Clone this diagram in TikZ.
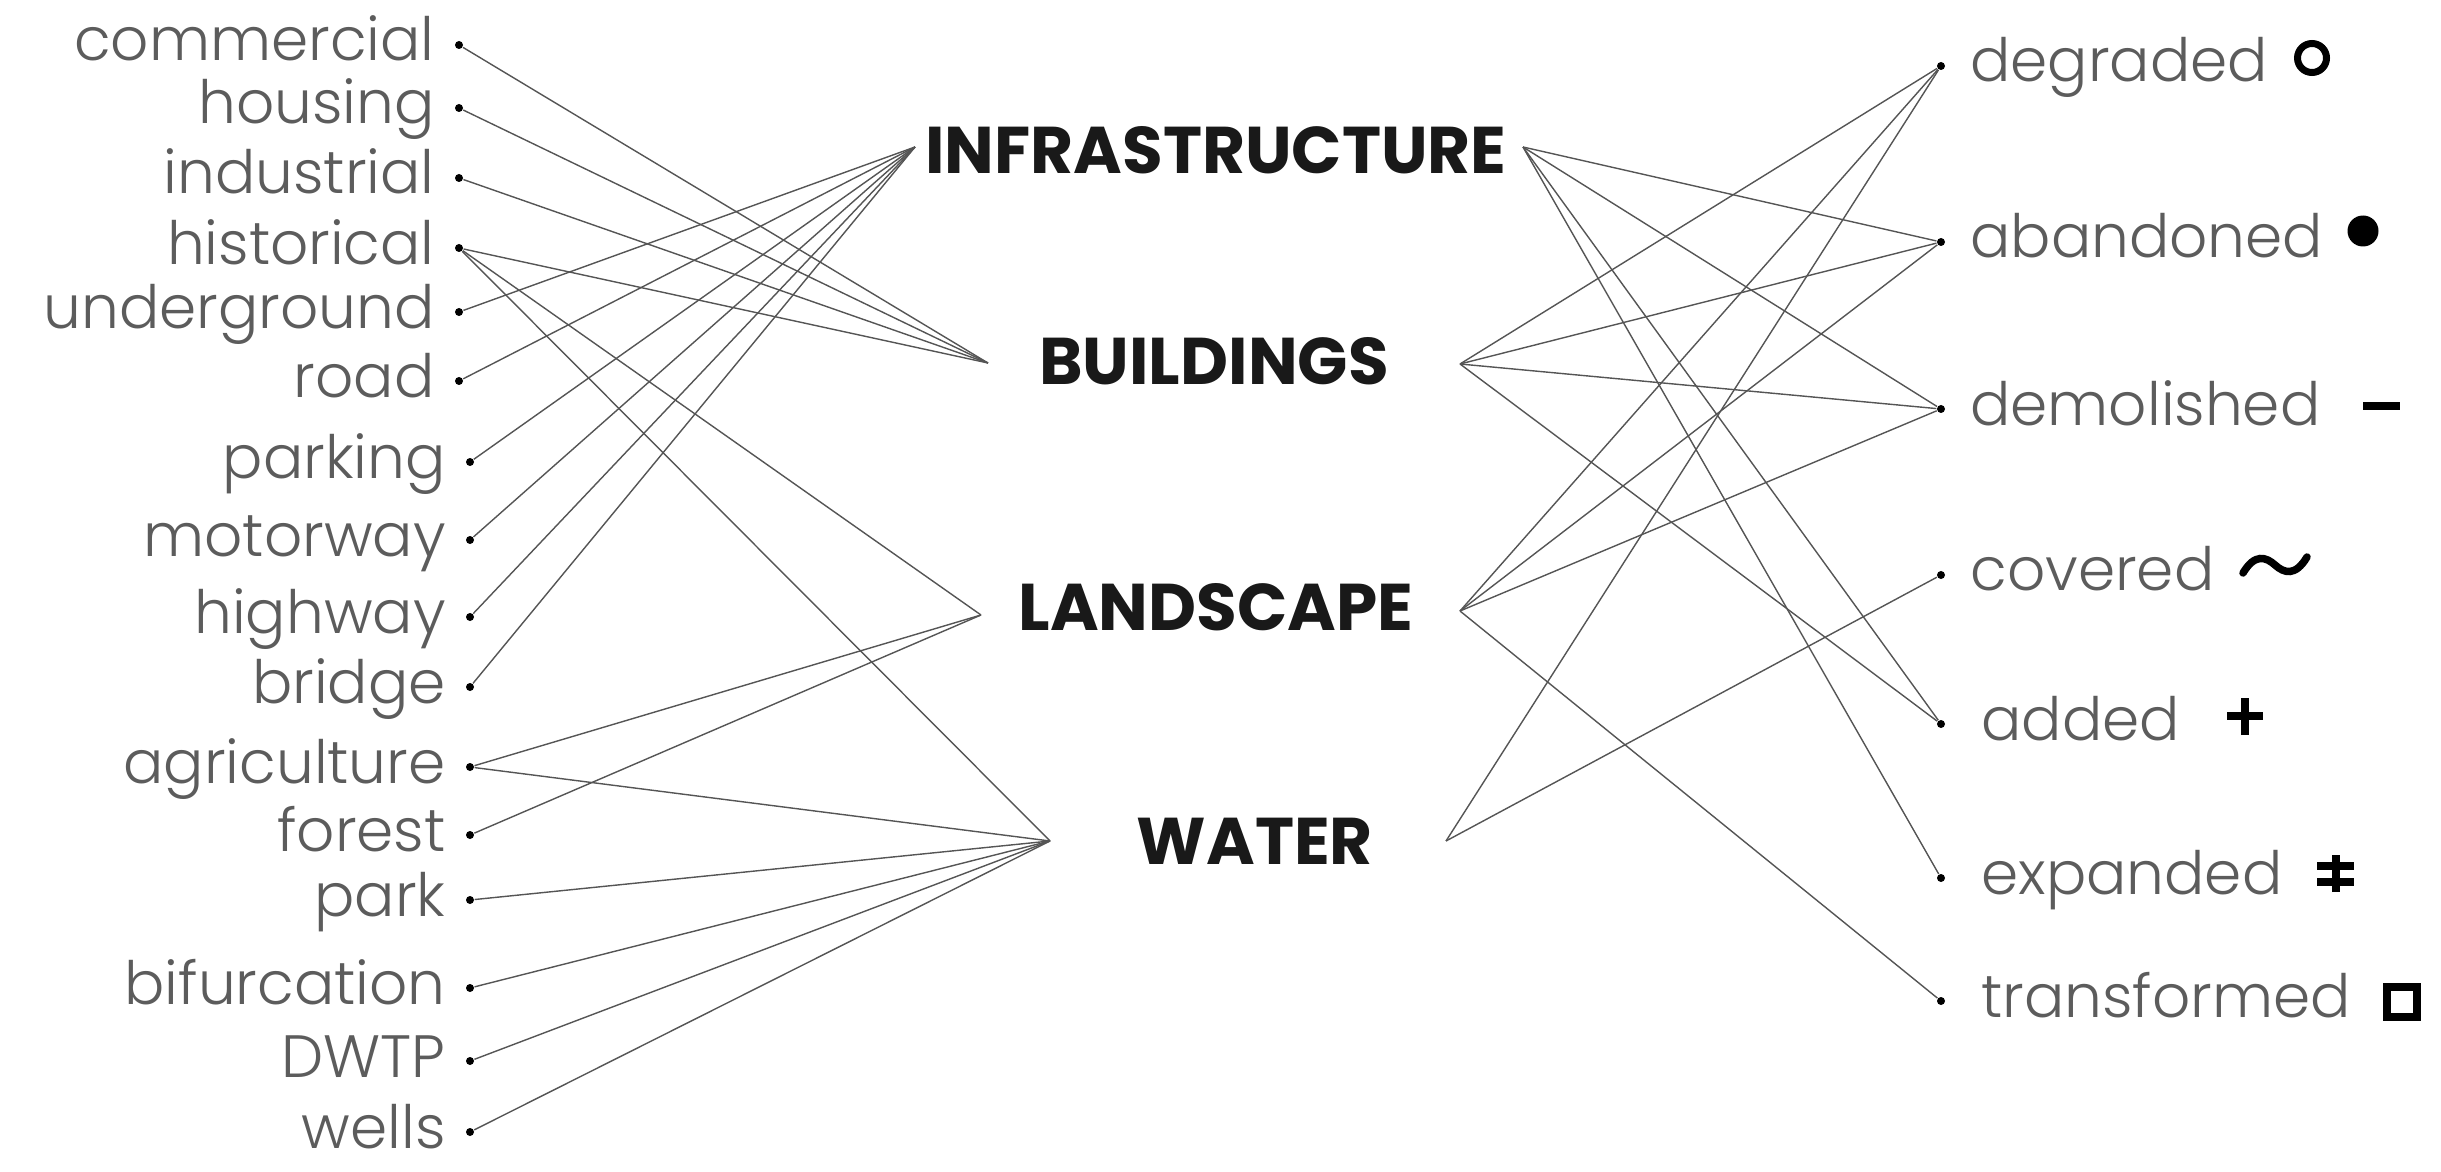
\documentclass[tikz,border=0pt]{standalone}
\usepackage{fontspec}
\setmainfont{Poppins}
\newfontfamily\lightfont{Poppins Light}
\usetikzlibrary{positioning}
\definecolor{labelgray}{HTML}{5C5C5C}
\definecolor{linegray}{HTML}{555555}
\begin{document}
\begin{tikzpicture}[
        dot/.style={circle,fill=black,inner sep=0pt,minimum size=0.08cm},
        item/.style={font=\lightfont\fontsize{17}{17}\selectfont,text=labelgray,inner sep=0pt},
        lefttext/.style={item,anchor=base east,yshift=-0.16cm},
        righttext/.style={item,anchor=base west,yshift=-0.16cm},
        group/.style={font=\bfseries\fontsize{18.8}{18.8}\selectfont,text=black!90,inner sep=0pt},
        link/.style={draw=linegray,line width=0.4pt},
        sym/.style={draw=black,line width=0.075cm}
    ]
    \useasboundingbox (0,0) rectangle (24.41,11.71);
    % left column
    \node[dot] (commercial) at (4.59,11.26) {};
    \node[dot] (housing) at (4.59,10.63) {};
    \node[dot] (industrial) at (4.59,9.93) {};
    \node[dot] (historical) at (4.59,9.23) {};
    \node[dot] (underground) at (4.59,8.59) {};
    \node[dot] (road) at (4.59,7.90) {};
    \node[dot] (parking) at (4.70,7.09) {};
    \node[dot] (motorway) at (4.70,6.31) {};
    \node[dot] (highway) at (4.70,5.54) {};
    \node[dot] (bridge) at (4.70,4.84) {};
    \node[dot] (agriculture) at (4.70,4.04) {};
    \node[dot] (forest) at (4.70,3.36) {};
    \node[dot] (park) at (4.70,2.71) {};
    \node[dot] (bifurcation) at (4.70,1.83) {};
    \node[dot] (dwtp) at (4.70,1.10) {};
    \node[dot] (wells) at (4.70,0.39) {};
    \node[left=0.19cm of commercial,lefttext] (t-commercial) {commercial};
    \node[left=0.19cm of housing,lefttext] (t-housing) {housing};
    \node[left=0.19cm of industrial,lefttext] (t-industrial) {industrial};
    \node[left=0.19cm of historical,lefttext] (t-historical) {historical};
    \node[left=0.19cm of underground,lefttext] (t-underground) {underground};
    \node[left=0.19cm of road,lefttext] (t-road) {road};
    \node[left=0.19cm of parking,lefttext] (t-parking) {parking};
    \node[left=0.19cm of motorway,lefttext] (t-motorway) {motorway};
    \node[left=0.19cm of highway,lefttext] (t-highway) {highway};
    \node[left=0.19cm of bridge,lefttext] (t-bridge) {bridge};
    \node[left=0.19cm of agriculture,lefttext] (t-agriculture) {agriculture};
    \node[left=0.19cm of forest,lefttext] (t-forest) {forest};
    \node[left=0.19cm of park,lefttext] (t-park) {park};
    \node[left=0.19cm of bifurcation,lefttext] (t-bifurcation) {bifurcation};
    \node[left=0.19cm of dwtp,lefttext] (t-dwtp) {DWTP};
    \node[left=0.19cm of wells,lefttext] (t-wells) {wells};
    % groups
    \node[group] (infra) at (12.16,10.21) {INFRASTRUCTURE};
    \node[group] (buildings) at (12.14,8.10) {BUILDINGS};
    \node[group] (landscape) at (12.16,5.64) {LANDSCAPE};
    \node[group] (water) at (12.55,3.30) {WATER};
    \coordinate (infraL) at (9.15,10.24);
    \coordinate (infraR) at (15.23,10.24);
    \coordinate (buildingsL) at (9.88,8.08);
    \coordinate (buildingsR) at (14.60,8.07);
    \coordinate (landscapeL) at (9.81,5.56);
    \coordinate (landscapeR) at (14.60,5.60);
    \coordinate (waterL) at (10.50,3.30);
    \coordinate (waterR) at (14.46,3.30);
    % right column
    \node[dot] (degraded) at (19.41,11.05) {};
    \node[dot] (abandoned) at (19.41,9.29) {};
    \node[dot] (demolished) at (19.41,7.62) {};
    \node[dot] (covered) at (19.41,5.96) {};
    \node[dot] (added) at (19.41,4.47) {};
    \node[dot] (expanded) at (19.41,2.93) {};
    \node[dot] (transformed) at (19.41,1.70) {};
    \node[right=0.24cm of degraded,righttext] (t-degraded) {degraded};
    \node[right=0.24cm of abandoned,righttext] (t-abandoned) {abandoned};
    \node[right=0.24cm of demolished,righttext] (t-demolished) {demolished};
    \node[right=0.24cm of covered,righttext] (t-covered) {covered};
    \node[right=0.35cm of added,righttext] (t-added) {added};
    \node[right=0.35cm of expanded,righttext] (t-expanded) {expanded};
    \node[right=0.35cm of transformed,righttext] (t-transformed) {transformed};
    % links, left side
    \draw[link] (commercial) -- (buildingsL);
    \draw[link] (housing) -- (buildingsL);
    \draw[link] (industrial) -- (buildingsL);
    \draw[link] (historical) -- (buildingsL);
    \draw[link] (historical) -- (landscapeL);
    \draw[link] (historical) -- (waterL);
    \draw[link] (underground) -- (infraL);
    \draw[link] (road) -- (infraL);
    \draw[link] (parking) -- (infraL);
    \draw[link] (motorway) -- (infraL);
    \draw[link] (highway) -- (infraL);
    \draw[link] (bridge) -- (infraL);
    \draw[link] (agriculture) -- (landscapeL);
    \draw[link] (agriculture) -- (waterL);
    \draw[link] (forest) -- (landscapeL);
    \draw[link] (park) -- (waterL);
    \draw[link] (bifurcation) -- (waterL);
    \draw[link] (dwtp) -- (waterL);
    \draw[link] (wells) -- (waterL);
    % links, right side
    \draw[link] (infraR) -- (abandoned);
    \draw[link] (infraR) -- (demolished);
    \draw[link] (infraR) -- (added);
    \draw[link] (infraR) -- (expanded);
    \draw[link] (buildingsR) -- (degraded);
    \draw[link] (buildingsR) -- (abandoned);
    \draw[link] (buildingsR) -- (demolished);
    \draw[link] (buildingsR) -- (added);
    \draw[link] (landscapeR) -- (degraded);
    \draw[link] (landscapeR) -- (abandoned);
    \draw[link] (landscapeR) -- (demolished);
    \draw[link] (landscapeR) -- (transformed);
    \draw[link] (waterR) -- (degraded);
    \draw[link] (waterR) -- (covered);
    % symbols
    \draw[sym,line width=0.07cm] (23.12,11.13) circle (0.145);
    \fill (23.63,9.40) circle (0.155);
    \draw[sym] (23.63,7.65) -- (24.00,7.65);
    \draw[sym,line cap=round] (22.43,5.98) .. controls (22.55,6.18) and (22.66,6.14) .. (22.75,6.06) .. controls (22.84,5.98) and (22.95,5.94) .. (23.07,6.14);
    \draw[sym] (22.27,4.55) -- (22.63,4.55) (22.45,4.36) -- (22.45,4.73);
    \draw[sym] (23.17,3.05) -- (23.54,3.05) (23.17,2.89) -- (23.54,2.89) (23.36,2.79) -- (23.36,3.16);
    \draw[sym] (23.87,1.54) rectangle (24.17,1.84);
\end{tikzpicture}
\end{document}
